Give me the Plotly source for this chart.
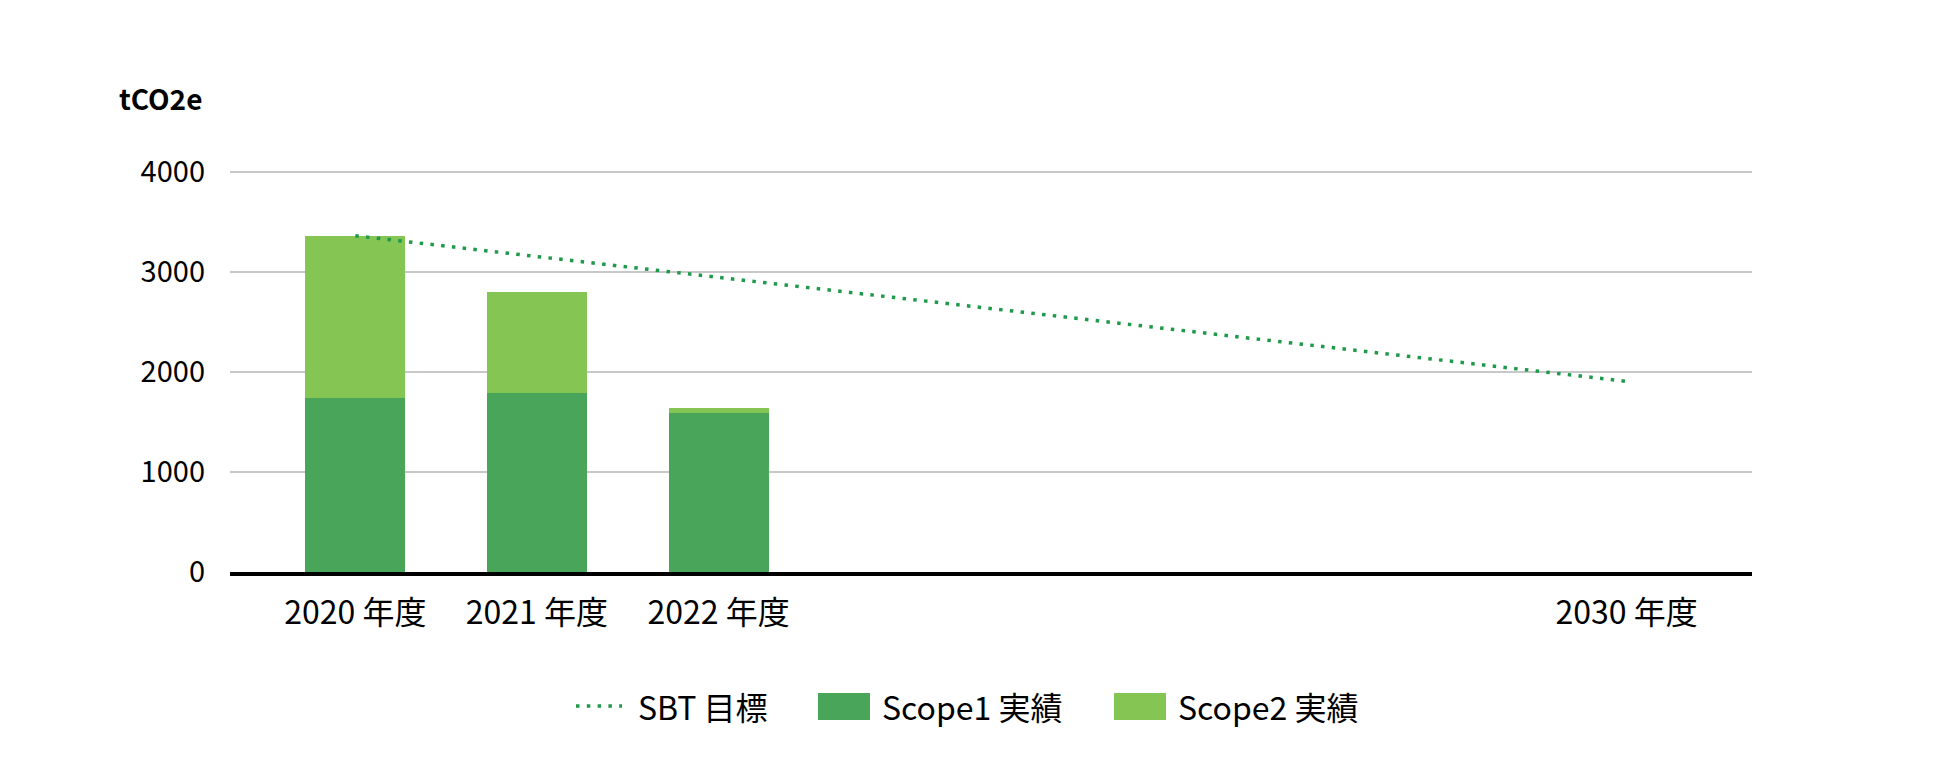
import plotly.graph_objects as go

# ---- data ----
categories = ["2020 年度", "2021 年度", "2022 年度", " ", "  ", "   ", "    ", "2030 年度"]
actual_years = ["2020 年度", "2021 年度", "2022 年度"]
scope1 = [1740, 1785, 1585]
scope2 = [1620, 1015, 57]
sbt_years = ["2020 年度", "2030 年度"]
sbt_target = [3360, 1905]
y_ticks = [0, 1000, 2000, 3000, 4000]
unit_label = "tCO2e"
legend_labels = ["SBT 目標", "Scope1 実績", "Scope2 実績"]

# ---- styles ----
C_S1 = "#48A55A"
C_S2 = "#84C553"
C_SBT = "#1F9A4A"
FONT = "Noto Sans CJK JP"

W, H = 1940, 780
L, R, T, B = 230, 188, 162, 208
PW, PH = W - L - R, H - T - B


def px_x(px):
    return (px - L) / PW


def px_y(py):
    return (H - B - py) / PH


fig = go.Figure()
fig.add_trace(go.Bar(x=actual_years, y=scope1, marker=dict(color=C_S1, line=dict(width=0)),
                     width=0.55, name=legend_labels[1], showlegend=False))
fig.add_trace(go.Bar(x=actual_years, y=scope2, marker=dict(color=C_S2, line=dict(width=0)),
                     width=0.55, name=legend_labels[2], showlegend=False))
fig.add_trace(go.Scatter(x=sbt_years, y=sbt_target, mode="lines",
                         line=dict(color=C_SBT, width=3.5, dash="3.5px,7.3px"),
                         name=legend_labels[0], showlegend=False))

# ---- custom legend ----
ly = 706
fig.add_shape(type="line", xref="paper", yref="paper",
              x0=px_x(576), x1=px_x(622), y0=px_y(ly), y1=px_y(ly),
              line=dict(color=C_SBT, width=3.5, dash="3.5px,7.3px"))
fig.add_annotation(text=legend_labels[0], xref="paper", yref="paper", x=px_x(636), y=px_y(ly),
                   xanchor="left", yanchor="middle", showarrow=False,
                   font=dict(family=FONT, size=32, color="#000"))
for (x0, x1, tx, col, lab) in [(818, 870, 880, C_S1, legend_labels[1]),
                               (1114, 1166, 1176, C_S2, legend_labels[2])]:
    fig.add_shape(type="rect", xref="paper", yref="paper",
                  x0=px_x(x0), x1=px_x(x1), y0=px_y(720), y1=px_y(693),
                  fillcolor=col, line=dict(width=0))
    fig.add_annotation(text=lab, xref="paper", yref="paper", x=px_x(tx), y=px_y(ly),
                       xanchor="left", yanchor="middle", showarrow=False,
                       font=dict(family=FONT, size=32, color="#000"))

# unit label
fig.add_annotation(text="<b>" + unit_label + "</b>", xref="paper", yref="paper",
                   x=px_x(204), y=px_y(98), xanchor="right", yanchor="middle", showarrow=False,
                   font=dict(family=FONT, size=28, color="#000"))

fig.update_layout(
    width=W, height=H,
    margin=dict(l=L, r=R, t=T, b=B, pad=0),
    barmode="stack",
    plot_bgcolor="white", paper_bgcolor="white",
    font=dict(family=FONT, color="#000"),
    showlegend=False,
)
fig.update_xaxes(type="category", categoryorder="array", categoryarray=categories,
                 tickvals=categories, ticktext=categories,
                 range=[-0.69, 7.69], showgrid=False, showline=True, linecolor="#000",
                 linewidth=4, ticks="", ticklabelstandoff=10,
                 tickfont=dict(family=FONT, size=32, color="#000"), zeroline=False)
fig.update_yaxes(range=[0, 4097], tickvals=y_ticks, showgrid=True, gridcolor="#C8C8C8",
                 gridwidth=2, zeroline=False, showline=False, ticks="",
                 ticklabelstandoff=24, tickfont=dict(family=FONT, size=29, color="#000"))

fig.write_html("out.html")
